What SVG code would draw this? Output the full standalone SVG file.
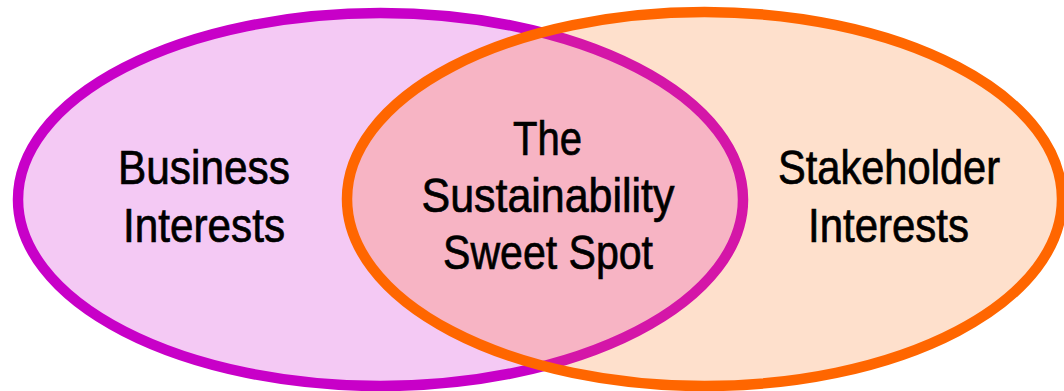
<svg xmlns="http://www.w3.org/2000/svg" width="1064" height="391" viewBox="0 0 1064 391">
  <style>
    .lbl { font-family: "Liberation Sans Narrow", "Liberation Sans", Arial, sans-serif; font-size: 48px; fill: #000; stroke: #000; stroke-width: 0.7px; text-anchor: middle; }
  </style>
  <defs>
    <ellipse id="shapeL" cx="380.5" cy="199.5" rx="362.5" ry="186.5"/>
    <ellipse id="shapeR" cx="704.5" cy="199" rx="357.5" ry="187"/>
    <clipPath id="clipR"><use href="#shapeR"/></clipPath>
  </defs>
  <rect width="1064" height="391" fill="#ffffff"/>
  <g id="business">
    <use href="#shapeL" fill="#f4c9f4" stroke="#c800c8" stroke-width="10.5"/>
  </g>
  <g id="stakeholder-fill">
    <use href="#shapeR" fill="#fee0cc"/>
  </g>
  <g id="sweet-spot">
    <use href="#shapeL" fill="#f7b4c4" clip-path="url(#clipR)"/>
    <use href="#shapeL" fill="none" stroke="#d416a8" stroke-width="10.5" clip-path="url(#clipR)"/>
  </g>
  <g id="stakeholder">
    <use href="#shapeR" fill="none" stroke="#ff6600" stroke-width="10.5"/>
  </g>
  <g id="connectors"></g>
  <g id="labels">
    <text class="lbl" x="204" y="184" textLength="172" lengthAdjust="spacingAndGlyphs">Business</text>
    <text class="lbl" x="204" y="242" textLength="162" lengthAdjust="spacingAndGlyphs">Interests</text>
    <text class="lbl" x="547.5" y="155" textLength="69" lengthAdjust="spacingAndGlyphs">The</text>
    <text class="lbl" x="548" y="212" textLength="253" lengthAdjust="spacingAndGlyphs">Sustainability</text>
    <text class="lbl" x="548" y="269" textLength="210" lengthAdjust="spacingAndGlyphs">Sweet Spot</text>
    <text class="lbl" x="889" y="184" textLength="222" lengthAdjust="spacingAndGlyphs">Stakeholder</text>
    <text class="lbl" x="888.5" y="242" textLength="161" lengthAdjust="spacingAndGlyphs">Interests</text>
  </g>
</svg>
